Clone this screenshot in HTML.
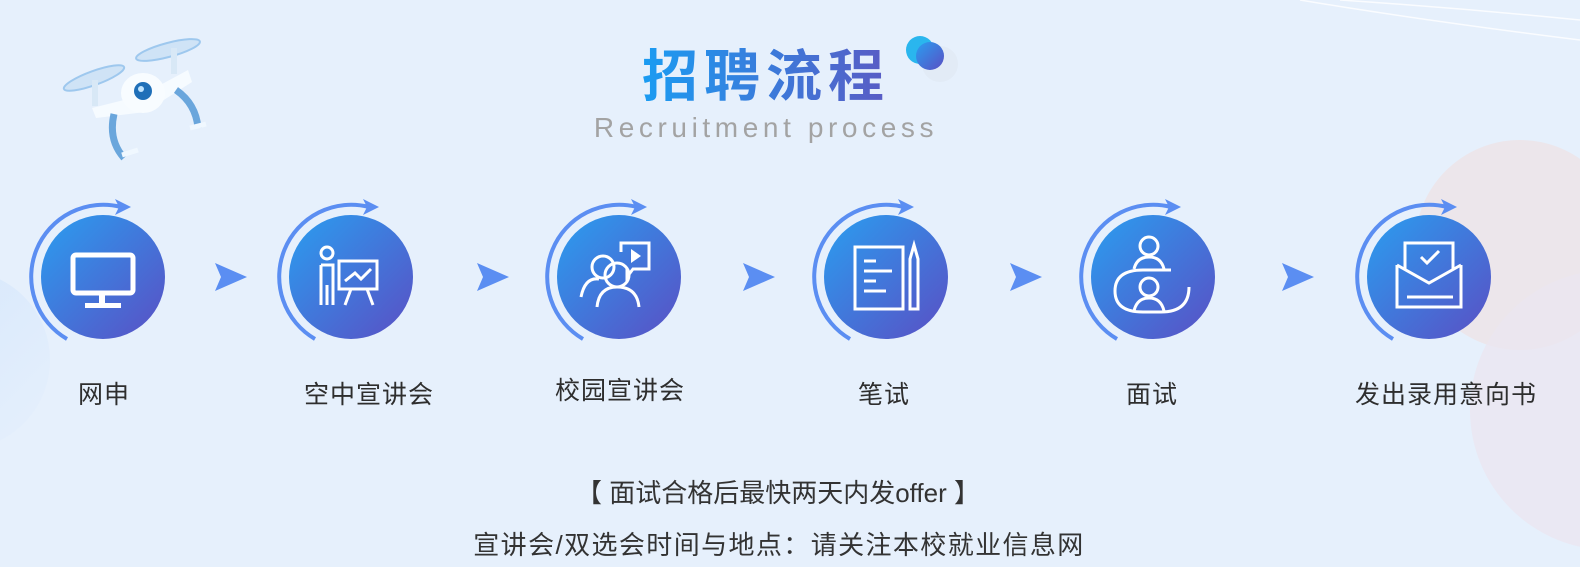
<!DOCTYPE html>
<html><head><meta charset="utf-8"><style>
html,body{margin:0;padding:0;width:1580px;height:567px;overflow:hidden;background:#e6f0fc;}
svg{display:block}
.lbl{font-family:"Liberation Sans","Noto Sans CJK SC",sans-serif;font-size:25px;fill:#2e2e2e;letter-spacing:1px}
</style></head><body>
<svg width="1580" height="567" viewBox="0 0 1580 567" xmlns="http://www.w3.org/2000/svg">
<defs>
<linearGradient id="cg" x1="0" y1="0" x2="1" y2="1"><stop offset="0" stop-color="#2a9ef0"/><stop offset="1" stop-color="#5a4fc4"/></linearGradient>
<linearGradient id="tg" x1="0" y1="0" x2="1" y2="0"><stop offset="0" stop-color="#1a9cf2"/><stop offset="1" stop-color="#5a5bc4"/></linearGradient>
<linearGradient id="lb" x1="0" y1="0" x2="1" y2="1"><stop offset="0" stop-color="#d4e6fb"/><stop offset="1" stop-color="#e6f0fc"/></linearGradient>
<g id="arc">
<path d="M-36,62 A72,72 0 0 1 18,-70" fill="none" stroke="#5b8ef2" stroke-width="4"/>
<path d="M12,-78 L28,-70 L12,-62 L16,-70 Z" fill="#5b8ef2"/>
</g>
<path id="arr" d="M-16,-14 L16,0 L-16,14 L-10,0 Z" fill="#5b8ef2"/>
</defs>
<!-- decorations -->
<circle cx="1520" cy="245" r="105" fill="#eee3e6" opacity="0.8"/>
<circle cx="1610" cy="410" r="140" fill="#ebe6f0" opacity="0.8"/>
<circle cx="-40" cy="360" r="90" fill="url(#lb)"/>
<path d="M1300,0 Q1420,20 1580,40" stroke="#fff" stroke-width="1.5" fill="none" opacity="0.8"/>
<path d="M1340,0 Q1460,8 1580,20" stroke="#fff" stroke-width="1.5" fill="none" opacity="0.8"/>
<!-- drone -->
<g>
<ellipse cx="94" cy="78" rx="32" ry="7" transform="rotate(-20 94 78)" fill="#cfe3f6" stroke="#9ec8ee" stroke-width="2"/>
<ellipse cx="168" cy="50" rx="33" ry="7" transform="rotate(-15 168 50)" fill="#cfe3f6" stroke="#9ec8ee" stroke-width="2"/>
<rect x="92" y="80" width="6" height="26" fill="#d8e8f6"/>
<rect x="171" y="48" width="6" height="26" fill="#d8e8f6"/>
<path d="M92,108 L140,96 L188,70 L192,82 L145,112 L96,118 Z" fill="#f6fbff"/>
<path d="M114,114 Q108,140 124,158" stroke="#6aa6dc" stroke-width="7" fill="none"/>
<path d="M122,155 L138,150" stroke="#f0f8ff" stroke-width="5"/>
<path d="M176,90 Q196,104 198,128" stroke="#6aa6dc" stroke-width="7" fill="none"/>
<path d="M190,128 L206,124" stroke="#f0f8ff" stroke-width="5"/>
<ellipse cx="143" cy="93" rx="22" ry="20" fill="#f8fcff"/>
<circle cx="143" cy="91" r="9" fill="#1f6fb8"/>
<circle cx="141" cy="89" r="3" fill="#bfe4ff"/>
</g>
<!-- title -->
<text x="766" y="96" text-anchor="middle" font-family="Liberation Sans,'Noto Sans CJK SC',sans-serif" font-weight="bold" font-size="56" fill="url(#tg)" letter-spacing="6">招聘流程</text>
<text x="766" y="137" text-anchor="middle" font-family="Liberation Sans,sans-serif" font-size="28" fill="#a3a3a3" letter-spacing="4.6">Recruitment process</text>
<circle cx="940" cy="64" r="18" fill="#e0e8f4" opacity="0.7"/>
<circle cx="920" cy="50" r="14" fill="#2ab6ee"/>
<circle cx="930" cy="56" r="14" fill="url(#cg)"/>
<!-- steps -->
<g transform="translate(103,277)"><use href="#arc"/><circle r="62" fill="url(#cg)"/>
<rect x="-30" y="-22" width="60" height="38" rx="3" fill="none" stroke="#fff" stroke-width="5"/><rect x="-4" y="16" width="6" height="10" fill="#fff"/><rect x="-18" y="26" width="36" height="5" fill="#fff"/></g>
<g transform="translate(351,277)"><use href="#arc"/><circle r="62" fill="url(#cg)"/>
<circle cx="-24" cy="-24" r="6" fill="none" stroke="#fff" stroke-width="3"/><path d="M-30,-12 L-18,-12 L-18,28 M-30,-12 L-30,28 M-24,8 L-24,28" stroke="#fff" stroke-width="3" fill="none"/><rect x="-12" y="-16" width="38" height="28" fill="none" stroke="#fff" stroke-width="3"/><path d="M-6,4 L4,-4 L10,2 L20,-8 M0,12 L-6,28 M16,12 L22,28" stroke="#fff" stroke-width="3" fill="none"/></g>
<g transform="translate(619,277)"><use href="#arc"/><circle r="62" fill="url(#cg)"/>
<circle cx="-16" cy="-10" r="11" fill="none" stroke="#fff" stroke-width="3"/><path d="M-38,20 Q-34,0 -20,2" fill="none" stroke="#fff" stroke-width="3"/><circle cx="-2" cy="-2" r="12" fill="none" stroke="#fff" stroke-width="3"/><path d="M-22,30 Q-20,10 -2,10 Q18,10 20,30" fill="none" stroke="#fff" stroke-width="3"/><path d="M2,-25 L2,-34 L30,-34 L30,-8 L14,-8 L8,0 L8,-8" fill="none" stroke="#fff" stroke-width="3"/><path d="M12,-28 L22,-21 L12,-14 Z" fill="#fff"/></g>
<g transform="translate(886,277)"><use href="#arc"/><circle r="62" fill="url(#cg)"/>
<rect x="-31" y="-30" width="48" height="62" fill="none" stroke="#fff" stroke-width="3"/><path d="M-22,-16 L-10,-16 M-22,-6 L6,-6 M-22,4 L-10,4 M-22,14 L0,14" stroke="#fff" stroke-width="3"/><path d="M24,-18 L24,32 L32,32 L32,-18 L28,-32 Z" fill="none" stroke="#fff" stroke-width="3"/></g>
<g transform="translate(1153,277)"><use href="#arc"/><circle r="62" fill="url(#cg)"/>
<circle cx="-4" cy="-31" r="9" fill="none" stroke="#fff" stroke-width="3"/><path d="M-19,-8 Q-16,-20 -4,-20 Q8,-20 11,-8" fill="none" stroke="#fff" stroke-width="3"/><path d="M18,-7 L-10,-7 Q-38,-7 -38,14 Q-38,35 -10,35 L8,35 Q36,35 36,10" fill="none" stroke="#fff" stroke-width="3"/><circle cx="-4" cy="10" r="9" fill="none" stroke="#fff" stroke-width="3"/><path d="M-19,34 Q-16,21 -4,21 Q8,21 11,34" fill="none" stroke="#fff" stroke-width="3"/></g>
<g transform="translate(1429,277)"><use href="#arc"/><circle r="62" fill="url(#cg)"/>
<path d="M-24,-8 L-24,-34 L24,-34 L24,-8" fill="none" stroke="#fff" stroke-width="3"/><path d="M-32,-12 L-32,30 L32,30 L32,-12 M-32,-12 L0,6 L32,-12" fill="none" stroke="#fff" stroke-width="3"/><path d="M-22,20 L24,20" stroke="#fff" stroke-width="3"/><path d="M-8,-20 L-2,-14 L10,-26" fill="none" stroke="#fff" stroke-width="3"/></g>
<use href="#arr" x="231" y="277"/><use href="#arr" x="493" y="277"/><use href="#arr" x="759" y="277"/><use href="#arr" x="1026" y="277"/><use href="#arr" x="1298" y="277"/>
<text class="lbl" x="104" y="403" text-anchor="middle">网申</text>
<text class="lbl" x="369" y="403" text-anchor="middle">空中宣讲会</text>
<text class="lbl" x="620" y="399" text-anchor="middle">校园宣讲会</text>
<text class="lbl" x="884" y="403" text-anchor="middle">笔试</text>
<text class="lbl" x="1152" y="403" text-anchor="middle">面试</text>
<text class="lbl" x="1446" y="403" text-anchor="middle">发出录用意向书</text>
<text x="778" y="502" text-anchor="middle" font-family="Liberation Sans,'Noto Sans CJK SC',sans-serif" font-size="26" fill="#333">【 面试合格后最快两天内发offer 】</text>
<text x="779" y="554" text-anchor="middle" font-family="Liberation Sans,'Noto Sans CJK SC',sans-serif" font-size="26" fill="#333" letter-spacing="1.4">宣讲会/双选会时间与地点：请关注本校就业信息网</text>
</svg>
</body></html>
